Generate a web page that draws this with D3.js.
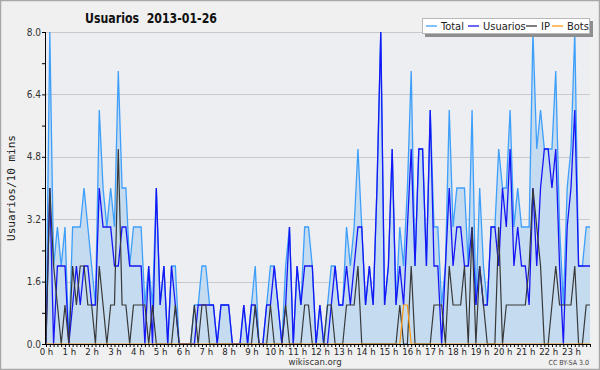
<!DOCTYPE html>
<html>
<head>
<meta charset="UTF-8">
<title>Usuarios 2013-01-26</title>
<script src="https://cdnjs.cloudflare.com/ajax/libs/d3/7.8.5/d3.min.js"></script>
<style>
  body { margin: 0; background: #f0f0f0; }
  svg { display: block; }
  .cond { font-family: "DejaVu Sans Condensed", "DejaVu Sans", sans-serif; font-stretch: condensed; }
</style>
</head>
<body>
<div id="chart"></div>
<script>
// Chart values, one point every 10 minutes (144 per day)
var total = [
  0,8,2,3,2,3,0,3,3,3,4,3,
  2,1,6,4,3,4,3,7,4,4,2,3,
  3,3,1,2,1,4,1,2,0,2,2,0,
  0,0,0,1,1,2,2,1,1,0,1,1,
  1,0,0,0,1,0,1,2,0,0,1,2,
  2,1,0,2,3,0,2,1,3,3,2,0,
  1,0,1,2,2,1,1,3,2,3,5,3,
  1,2,1,4,8,1,2,5,1,3,2,4,
  7,2,5,5,2,6,3,3,1,2,6,3,
  4,4,4,2,6,1,4,2,1,3,3,5,
  4,4,6,3,4,3,3,3,8,5,6,5,
  5,5,7,3,1,4,5,8,2,2,3,3
];
var usuarios = [
  0,4,0,2,2,2,0,1,2,1,2,2,
  1,1,4,3,3,3,2,2,3,3,2,2,
  2,2,0,2,0,4,1,2,0,2,1,0,
  0,0,0,0,1,1,1,1,1,0,1,1,
  1,0,0,0,1,0,1,1,0,0,1,1,
  2,1,0,1,3,0,2,1,2,2,2,0,
  1,0,0,1,2,1,1,2,1,2,3,3,
  1,2,1,4,8,1,2,5,1,2,1,3,
  5,2,5,5,2,6,2,2,0,2,4,2,
  3,3,2,2,3,1,2,1,1,3,3,2,
  4,3,5,2,3,2,2,1,4,2,4,5,
  5,4,5,2,0,3,4,6,2,2,2,2
];
var ip = [
  0,4,2,1,0,1,0,2,1,2,2,1,
  1,0,2,1,0,1,1,5,1,1,0,1,
  1,1,1,0,1,0,0,0,0,0,1,0,
  0,0,0,1,0,1,1,0,0,0,0,0,
  0,0,0,0,0,0,0,1,0,0,0,1,
  0,0,0,1,0,0,0,0,1,1,0,0,
  0,0,1,1,0,0,0,1,1,1,2,0,
  0,0,0,0,0,0,0,0,0,1,0,0,
  2,0,0,0,0,0,1,1,1,0,2,1,
  1,1,2,0,3,0,2,1,0,0,0,3,
  0,1,1,1,1,1,1,2,4,3,2,0,
  0,1,2,1,1,1,1,2,0,0,1,1
];
var bots = [
  0,0,0,0,0,0,0,0,0,0,0,0,
  0,0,0,0,0,0,0,0,0,0,0,0,
  0,0,0,0,0,0,0,0,0,0,0,0,
  0,0,0,0,0,0,0,0,0,0,0,0,
  0,0,0,0,0,0,0,0,0,0,0,0,
  0,0,0,0,0,0,0,0,0,0,0,0,
  0,0,0,0,0,0,0,0,0,0,0,0,
  0,0,0,0,0,0,0,0,0,0,1,1,
  0,0,0,0,0,0,0,0,0,0,0,0,
  0,0,0,0,0,0,0,0,0,0,0,0,
  0,0,0,0,0,0,0,0,0,0,0,0,
  0,0,0,0,0,0,0,0,0,0,0,0
];
var hourLabels = ["0 h","1 h","2 h","3 h","4 h","5 h","6 h","7 h","8 h","9 h","10 h","11 h",
                  "12 h","13 h","14 h","15 h","16 h","17 h","18 h","19 h","20 h","21 h","22 h","23 h"];
var yTicks = [0, 1.6, 3.2, 4.8, 6.4, 8.0];
var yMinorTicks = [0, 0.8, 1.6, 2.4, 3.2, 4.0, 4.8, 5.6, 6.4, 7.2, 8.0];
var legendNames = ["Total", "Usuarios", "IP", "Bots"];

var W = 600, H = 370;
var pLeft = 46, pRight = 590, pTop = 32, pBottom = 344;

var colors = {
  total: "#3e9ffb",
  fill: "#c5dcf0",
  usuarios: "#1515f5",
  ip: "#383838",
  bots: "#ff9a10"
};

var svg = d3.select("#chart").append("svg")
  .attr("width", W)
  .attr("height", H);

// background and frame
svg.append("rect").attr("x", 0).attr("y", 0).attr("width", W).attr("height", H).attr("fill", "#f0f0f0");
svg.append("rect").attr("x", 0.5).attr("y", 0.5).attr("width", W - 1).attr("height", H - 1)
  .attr("fill", "none").attr("stroke", "#a8a8a8").attr("stroke-width", 1.5);
svg.append("rect").attr("x", pLeft).attr("y", pTop).attr("width", pRight - pLeft).attr("height", pBottom - pTop)
  .attr("fill", "#eceef1");

var x = d3.scaleLinear().domain([0, 143]).range([pLeft, pRight]);
var y = d3.scaleLinear().domain([0, 8]).range([pBottom, pTop]);

// grid lines
svg.append("g").selectAll("line").data(yTicks.slice(1)).join("line")
  .attr("x1", pLeft).attr("x2", pRight)
  .attr("y1", function(d) { return Math.round(y(d)) + 0.5; })
  .attr("y2", function(d) { return Math.round(y(d)) + 0.5; })
  .attr("stroke", "#c9c9c9").attr("stroke-width", 1);

// series
var idx = d3.range(total.length);
var area = d3.area()
  .x(function(i) { return x(i); })
  .y0(pBottom)
  .y1(function(i) { return y(total[i]); });
var lineOf = function(arr) {
  return d3.line().x(function(i) { return x(i); }).y(function(i) { return y(arr[i]); });
};

svg.append("path").datum(idx).attr("d", area).attr("fill", colors.fill);
svg.append("path").datum(idx).attr("d", lineOf(total))
  .attr("fill", "none").attr("stroke", colors.total).attr("stroke-width", 1.3);
svg.append("path").datum(idx).attr("d", lineOf(usuarios))
  .attr("fill", "none").attr("stroke", colors.usuarios).attr("stroke-width", 1.3);
svg.append("path").datum(idx).attr("d", lineOf(ip))
  .attr("fill", "none").attr("stroke", colors.ip).attr("stroke-width", 1.2);
svg.append("path").datum(idx).attr("d", lineOf(bots))
  .attr("fill", "none").attr("stroke", colors.bots).attr("stroke-width", 1.2);

// x axis: a tick every 10 minutes, label every hour
var xAxis = d3.axisBottom(x)
  .tickValues(idx)
  .tickSize(3)
  .tickPadding(1)
  .tickFormat(function(i) { return i % 6 === 0 ? hourLabels[i / 6] : ""; });
var gx = svg.append("g").attr("transform", "translate(0," + pBottom + ")").call(xAxis);
gx.select(".domain").attr("d", "M" + (pLeft - 0.5) + ",0.5H" + pRight).attr("stroke", "#000");
gx.selectAll(".tick line").attr("stroke", "#000");
gx.selectAll(".tick text").attr("class", "cond").attr("font-size", 9.5).attr("fill", "#222");

// y axis
var gy = svg.append("g").attr("transform", "translate(" + pLeft + ",0)");
gy.append("g").call(d3.axisLeft(y).tickValues(yMinorTicks).tickSize(4).tickFormat(""))
  .call(function(g) { g.select(".domain").remove(); });
gy.selectAll(".tick line").attr("stroke", "#000");
gy.append("line").attr("x1", -0.5).attr("x2", -0.5).attr("y1", pTop).attr("y2", pBottom + 1).attr("stroke", "#000");
gy.append("g").selectAll("text").data(yTicks).join("text")
  .attr("class", "cond")
  .attr("x", -5)
  .attr("y", function(d) { return y(d); })
  .attr("dy", "0.35em")
  .attr("text-anchor", "end")
  .attr("font-size", 10)
  .attr("fill", "#333")
  .text(function(d) { return d.toFixed(1); });

// titles
svg.append("text").attr("class", "cond")
  .attr("x", 85).attr("y", 22.5)
  .attr("font-size", 14).attr("font-weight", "bold").attr("fill", "#111")
  .attr("textLength", 132).attr("lengthAdjust", "spacingAndGlyphs")
  .style("white-space", "pre")
  .text("Usuarios  2013-01-26");
svg.append("text")
  .attr("transform", "translate(15,188) rotate(-90)")
  .attr("text-anchor", "middle")
  .attr("font-family", "DejaVu Sans Mono, monospace")
  .attr("font-size", 11).attr("fill", "#222")
  .text("Usuarios/10 mins");
svg.append("text").attr("class", "cond")
  .attr("x", 315).attr("y", 365)
  .attr("text-anchor", "middle").attr("font-size", 9.5).attr("fill", "#333")
  .text("wikiscan.org");
svg.append("text").attr("class", "cond")
  .attr("x", 589).attr("y", 365)
  .attr("text-anchor", "end").attr("font-size", 7).attr("fill", "#444")
  .text("CC BY-SA 3.0");

// legend
var lg = svg.append("g");
lg.append("rect").attr("x", 425).attr("y", 21).attr("width", 168).attr("height", 16).attr("fill", "#8e8e8e");
lg.append("rect").attr("x", 422.5).attr("y", 18.5).attr("width", 167).attr("height", 15)
  .attr("fill", "#fff").attr("stroke", "#b8b8b8");
var legendColors = [colors.total, colors.usuarios, colors.ip, colors.bots];
var legendX = [426, 468, 526, 552];
legendNames.forEach(function(name, k) {
  lg.append("line").attr("x1", legendX[k]).attr("x2", legendX[k] + 11)
    .attr("y1", 26).attr("y2", 26)
    .attr("stroke", legendColors[k]).attr("stroke-width", 1.3);
  lg.append("text").attr("class", "cond")
    .attr("x", legendX[k] + 15).attr("y", 30)
    .attr("font-size", 11).attr("fill", "#222")
    .text(name);
});
</script>
</body>
</html>
